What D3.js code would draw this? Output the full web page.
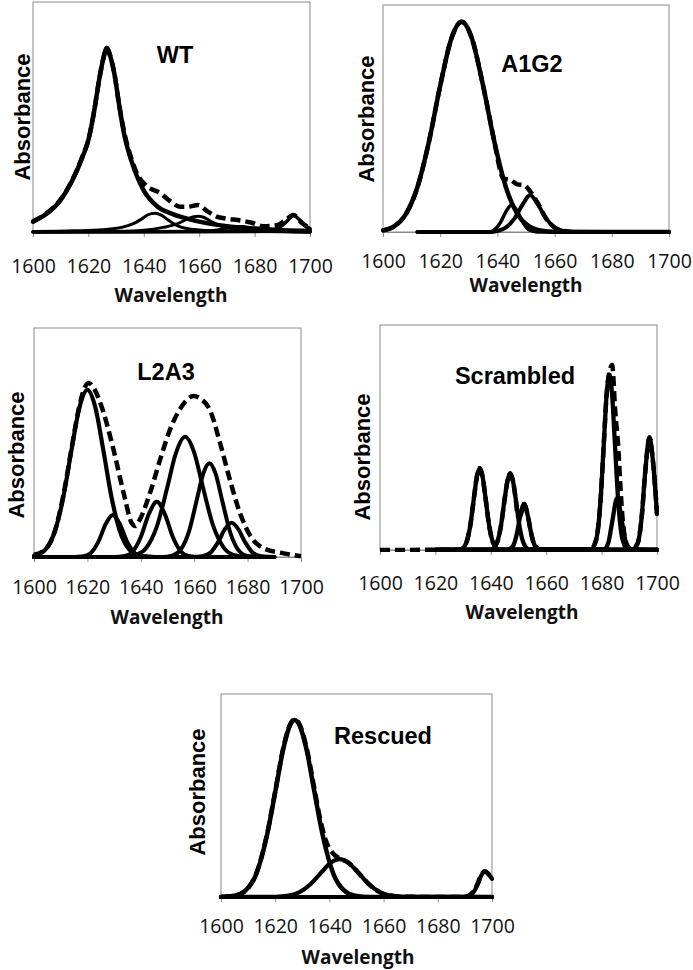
<!DOCTYPE html>
<html>
<head>
<meta charset="utf-8">
<script src="https://cdn.jsdelivr.net/npm/d3@7"></script>
<style>
  html, body { margin: 0; padding: 0; background: #fff; }
  svg { display: block; }
</style>
</head>
<body>
<script>
// ---------------- DATA (y = fraction of plot height) ----------------
const xTicks = [1600, 1620, 1640, 1660, 1680, 1700];
const panelTitles = ["WT", "A1G2", "L2A3", "Scrambled", "Rescued"];
const xLabel = "Wavelength";
const yLabel = "Absorbance";

// WT
const wtMain = [[1600,0.045],[1605,0.08],[1610,0.14],[1614,0.22],[1618,0.33],[1620,0.40],[1622,0.52],[1624,0.67],[1625.5,0.76],[1626.6,0.80],[1628,0.76],[1629.5,0.68],[1631,0.56],[1633,0.42],[1635.5,0.31],[1640,0.18],[1645,0.11],[1650,0.08],[1655,0.06],[1660,0.045],[1670,0.025],[1680,0.015],[1690,0.008],[1700,0.005]];
const wtC1644 = [[1600,0.002],[1615,0.005],[1625,0.01],[1632,0.02],[1636,0.035],[1639,0.055],[1641.5,0.075],[1644,0.082],[1646.5,0.072],[1649,0.05],[1652,0.028],[1656,0.014],[1662,0.007],[1672,0.003],[1700,0]];
const wtC1659 = [[1600,0],[1630,0.003],[1640,0.008],[1647,0.02],[1652,0.035],[1655.5,0.055],[1658,0.066],[1659.7,0.068],[1661.5,0.064],[1664,0.048],[1667,0.03],[1671,0.016],[1678,0.007],[1690,0.002],[1700,0]];
const wtC1675 = [[1600,0],[1660,0.003],[1667,0.01],[1671,0.018],[1675,0.024],[1679,0.018],[1683,0.01],[1690,0.003],[1700,0]];
const wtC1694 = [[1600,0],[1680,0.002],[1686,0.008],[1689,0.02],[1691.5,0.045],[1694,0.072],[1696.5,0.05],[1698.5,0.025],[1700,0.015]];
const wtSum = [[1600,0.047],[1605,0.082],[1610,0.142],[1614,0.222],[1618,0.333],[1620,0.40],[1622,0.52],[1624,0.67],[1625.5,0.76],[1626.6,0.80],[1628,0.76],[1629.5,0.68],[1631,0.56],[1633,0.43],[1635.5,0.32],[1637.5,0.255],[1641,0.2],[1645.8,0.17],[1650,0.13],[1653,0.11],[1656,0.11],[1659.5,0.117],[1663,0.09],[1666.3,0.067],[1670,0.058],[1675,0.05],[1679,0.04],[1683,0.025],[1688,0.03],[1691,0.05],[1694,0.074],[1697,0.04],[1700,0.015]];

// A1G2
const a1Main = [[1600,0.007],[1604,0.026],[1608,0.079],[1612,0.196],[1616,0.394],[1620,0.644],[1624,0.856],[1627.5,0.926],[1631,0.856],[1635,0.644],[1639,0.394],[1643,0.196],[1647,0.079],[1651,0.026],[1655,0.007],[1660,0.001],[1700,0]];
const a1C1645 = [[1612,0],[1637,0],[1639,0.01],[1641,0.04],[1643,0.09],[1645,0.119],[1647,0.09],[1649,0.04],[1651,0.01],[1654,0],[1700,0]];
const a1C1651 = [[1612,0],[1638,0],[1640.5,0.006],[1643,0.02],[1646,0.06],[1649,0.125],[1651.4,0.163],[1654,0.125],[1657,0.06],[1660,0.02],[1663,0.005],[1666,0],[1700,0]];
const a1Sum = [[1600,0.007],[1604,0.026],[1608,0.079],[1612,0.196],[1616,0.394],[1620,0.644],[1624,0.856],[1627.5,0.926],[1631,0.856],[1635,0.644],[1639,0.394],[1641,0.27],[1642,0.235],[1644.5,0.23],[1647,0.21],[1649.2,0.207],[1651.4,0.18],[1654,0.13],[1657,0.06],[1660,0.02],[1663,0.005],[1666,0]];

// L2A3
const l2C1620 = [[1600,0.005],[1604,0.029],[1608,0.119],[1611,0.263],[1614,0.464],[1617,0.652],[1620,0.73],[1623,0.652],[1626,0.464],[1629,0.263],[1632,0.119],[1636,0.029],[1640,0.005],[1645,0],[1690,0]];
const l2C1630 = [[1600,0],[1615,0],[1618,0.002],[1621,0.015],[1624,0.064],[1627,0.147],[1629.5,0.183],[1632,0.147],[1635,0.064],[1638,0.015],[1641,0.002],[1645,0],[1690,0]];
const l2C1646 = [[1600,0],[1630,0],[1634,0.004],[1637,0.024],[1640,0.087],[1643,0.187],[1646,0.241],[1649,0.187],[1652,0.087],[1655,0.024],[1658,0.004],[1662,0],[1690,0]];
const l2C1657 = [[1600,0],[1634,0],[1638,0.008],[1642,0.039],[1646,0.133],[1650,0.308],[1653,0.448],[1656.6,0.525],[1660,0.456],[1663,0.318],[1667,0.14],[1671,0.042],[1675,0.008],[1679,0.001],[1690,0]];
const l2C1666 = [[1600,0],[1648,0],[1652,0.007],[1655,0.033],[1658,0.11],[1661,0.251],[1663.5,0.368],[1665.7,0.409],[1668,0.364],[1670.5,0.246],[1673.5,0.107],[1676.5,0.031],[1680,0.004],[1684,0],[1690,0]];
const l2C1674 = [[1600,0],[1660,0],[1663,0.003],[1666,0.018],[1669,0.066],[1671.5,0.122],[1674,0.15],[1676.5,0.122],[1679,0.066],[1682,0.018],[1685,0.003],[1690,0]];
const l2Sum = [[1600,0.01],[1604,0.03],[1608,0.12],[1611,0.27],[1614,0.47],[1617,0.66],[1619,0.74],[1620.5,0.76],[1622,0.745],[1625.3,0.657],[1629.5,0.482],[1633.9,0.263],[1636.5,0.15],[1638,0.135],[1639.7,0.165],[1643.4,0.278],[1647.2,0.424],[1650.9,0.555],[1655.3,0.657],[1659.7,0.703],[1662.5,0.69],[1665.9,0.642],[1669.7,0.497],[1673.4,0.336],[1677.2,0.19],[1681.6,0.082],[1686,0.038],[1693.5,0.016],[1700,0.003]];

// Scrambled
const scC1636 = [[1620,0],[1629,0.002],[1631,0.028],[1632.5,0.102],[1634,0.24],[1635,0.328],[1636,0.363],[1637,0.328],[1638,0.24],[1639.5,0.102],[1641,0.028],[1643,0.002],[1700,0]];
const scC1647 = [[1620,0],[1640,0.002],[1642,0.026],[1643.5,0.096],[1645,0.226],[1646,0.307],[1647,0.34],[1648,0.307],[1649,0.226],[1650.5,0.096],[1652,0.026],[1654,0.002],[1700,0]];
const scC1652 = [[1620,0],[1646,0.001],[1648,0.017],[1649.5,0.078],[1650.5,0.144],[1652,0.204],[1653.5,0.144],[1654.5,0.078],[1656,0.017],[1658,0.001],[1700,0]];
const scC1683 = [[1620,0],[1676,0.002],[1678,0.044],[1679.5,0.2],[1680.8,0.473],[1681.8,0.688],[1682.8,0.78],[1683.8,0.688],[1684.8,0.473],[1686.1,0.2],[1687.6,0.044],[1689.6,0.002],[1700,0]];
const scC1686 = [[1620,0],[1681,0.004],[1682.5,0.035],[1683.8,0.123],[1685.6,0.23],[1687.4,0.123],[1688.7,0.035],[1690.2,0.004],[1700,0]];
const scC1697 = [[1620,0],[1691,0.001],[1693,0.029],[1694.5,0.15],[1695.7,0.34],[1697.3,0.5],[1698.5,0.4],[1700,0.16]];
const scSum = [[1600,0],[1629,0.002],[1631,0.028],[1632.5,0.102],[1634,0.24],[1635,0.328],[1636,0.363],[1637,0.328],[1638,0.24],[1639.5,0.102],[1641,0.03],[1642,0.03],[1643.5,0.096],[1645,0.226],[1646,0.307],[1647,0.34],[1648,0.307],[1649,0.226],[1649.8,0.15],[1650.5,0.15],[1652,0.204],[1653.5,0.144],[1654.5,0.078],[1656,0.017],[1658,0.001],[1676,0.002],[1678,0.044],[1679.5,0.2],[1680.8,0.473],[1681.8,0.69],[1682.8,0.79],[1683.8,0.822],[1684.9,0.62],[1686.1,0.44],[1686.7,0.3],[1687.5,0.15],[1688.7,0.04],[1690.2,0.006],[1691,0.003],[1693,0.029],[1694.5,0.15],[1695.7,0.34],[1697.3,0.5],[1698.5,0.4],[1700,0.16]];

// Rescued
const reMain = [[1600,0],[1605,0.006],[1609,0.031],[1613,0.113],[1617,0.306],[1620,0.516],[1623,0.73],[1625.5,0.847],[1627.2,0.872],[1629,0.845],[1631.5,0.73],[1634.5,0.516],[1637.5,0.306],[1641.5,0.113],[1645.5,0.031],[1649.5,0.006],[1655,0],[1700,0]];
const reC1644 = [[1600,0],[1620,0.001],[1625,0.007],[1629,0.024],[1633,0.063],[1637,0.121],[1640.5,0.169],[1643.8,0.187],[1647,0.169],[1650.6,0.121],[1654.6,0.063],[1658.6,0.024],[1662.6,0.007],[1668,0.001],[1700,0]];
const reC1697 = [[1600,0],[1689,0],[1691,0.002],[1693,0.02],[1694.5,0.055],[1696,0.105],[1697.3,0.125],[1698.5,0.115],[1700,0.09]];
const reSum = [[1600,0],[1605,0.006],[1609,0.031],[1613,0.115],[1617,0.31],[1620,0.52],[1623,0.735],[1625.5,0.85],[1627.2,0.875],[1629,0.85],[1631.5,0.74],[1634.5,0.53],[1636.5,0.39],[1638.5,0.285],[1641,0.22],[1643.8,0.19],[1647,0.169],[1650.6,0.121],[1654.6,0.063],[1658.6,0.024],[1662.6,0.007],[1668,0.001],[1689,0],[1691,0.004],[1693,0.025],[1694.5,0.06],[1696,0.108],[1697.3,0.127],[1698.5,0.117],[1700,0.092]];

// ---------------- LAYOUT ----------------
const W = 693, H = 970;
const panels = [
  { title: panelTitles[0], box: [33, 310, 2, 232], tickBase: 273, wave: [171, 302], abs: [22, 117], titlePos: [175, 63],
    solids: [[wtC1644, 3], [wtC1659, 3], [wtC1675, 3], [wtC1694, 3.5], [wtMain, 4.5]], dashed: wtSum },
  { title: panelTitles[1], box: [383, 669, 5, 232], tickBase: 268, wave: [526, 292], abs: [366, 119], titlePos: [532, 72],
    solids: [[a1C1645, 3.5], [a1C1651, 4], [a1Main, 4.5]], dashed: a1Sum },
  { title: panelTitles[2], box: [34, 301, 328, 557], tickBase: 594, wave: [167, 624], abs: [16, 455], titlePos: [166, 380],
    solids: [[l2C1630, 4], [l2C1646, 4], [l2C1657, 4], [l2C1666, 4], [l2C1674, 4], [l2C1620, 4.2]], dashed: l2Sum },
  { title: panelTitles[3], box: [380, 657, 325, 550], tickBase: 590, wave: [522, 619], abs: [362, 457], titlePos: [515, 384],
    solids: [[scC1636, 4.3], [scC1647, 4.3], [scC1652, 4.3], [scC1683, 4.3], [scC1686, 4.3], [scC1697, 4.3]], dashed: scSum },
  { title: panelTitles[4], box: [221, 492, 694, 897], tickBase: 933, wave: [358, 964], abs: [197, 792], titlePos: [383, 744],
    solids: [[reC1644, 4.2], [reC1697, 4.2], [reMain, 4.5]], dashed: reSum }
];

const svg = d3.select("body").append("svg").attr("width", W).attr("height", H);
svg.append("rect").attr("width", W).attr("height", H).attr("fill", "#fff");

const tickFont = "'Open Sans', 'Lato', sans-serif";
const boldFont = "'Liberation Sans', Arial, sans-serif";

panels.forEach((p, i) => {
  const [x0, x1, y0, y1] = p.box;
  const x = d3.scaleLinear().domain([1600, 1700]).range([x0, x1]);
  const y = d3.scaleLinear().domain([0, 1]).range([y1, y0]);
  const g = svg.append("g");

  g.append("clipPath").attr("id", "clip" + i)
    .append("rect").attr("x", x0 - 2).attr("y", y0 - 10).attr("width", x1 - x0 + 4).attr("height", y1 - y0 + 12);

  // box
  g.append("rect").attr("x", x0).attr("y", y0).attr("width", x1 - x0).attr("height", y1 - y0)
    .attr("fill", "none").attr("stroke", "#8a8a8a").attr("stroke-width", 1);

  // axis
  const ax = g.append("g").attr("transform", `translate(0,${y1})`)
    .call(d3.axisBottom(x).tickValues(xTicks).tickSize(5).tickSizeOuter(0).tickPadding(0).tickFormat(d3.format("d")));
  ax.select(".domain").attr("stroke", "#8a8a8a");
  ax.selectAll(".tick line").attr("stroke", "#8a8a8a");
  ax.selectAll(".tick text").attr("y", p.tickBase - y1).attr("dy", null)
    .attr("font-family", tickFont).attr("font-size", 19.5).attr("fill", "#111");

  const line = d3.line().x(d => x(d[0])).y(d => y(d[1])).curve(d3.curveMonotoneX);
  const lines = g.append("g").attr("clip-path", `url(#clip${i})`);
  p.solids.forEach(([data, w]) => {
    lines.append("path").attr("d", line(data)).attr("fill", "none").attr("stroke", "#000")
      .attr("stroke-width", w).attr("stroke-linejoin", "round").attr("stroke-linecap", "round");
  });
  lines.append("path").attr("d", line(p.dashed)).attr("fill", "none").attr("stroke", "#000")
    .attr("stroke-width", 4.5).attr("stroke-dasharray", "10,5").attr("stroke-linejoin", "round");

  // title
  g.append("text").attr("x", p.titlePos[0]).attr("y", p.titlePos[1]).attr("text-anchor", "middle")
    .attr("font-family", boldFont).attr("font-weight", "bold").attr("font-size", 23.5).attr("fill", "#000")
    .text(p.title);
  // x label
  g.append("text").attr("x", p.wave[0]).attr("y", p.wave[1]).attr("text-anchor", "middle")
    .attr("font-family", tickFont).attr("font-weight", "bold").attr("font-size", 19).attr("fill", "#111")
    .text(xLabel);
  // y label
  g.append("text").attr("transform", `translate(${p.abs[0]},${p.abs[1]}) rotate(-90)`)
    .attr("text-anchor", "middle").attr("dominant-baseline", "central")
    .attr("font-family", boldFont).attr("font-weight", "bold").attr("font-size", 22).attr("fill", "#000")
    .text(yLabel);
});
</script>
</body>
</html>
